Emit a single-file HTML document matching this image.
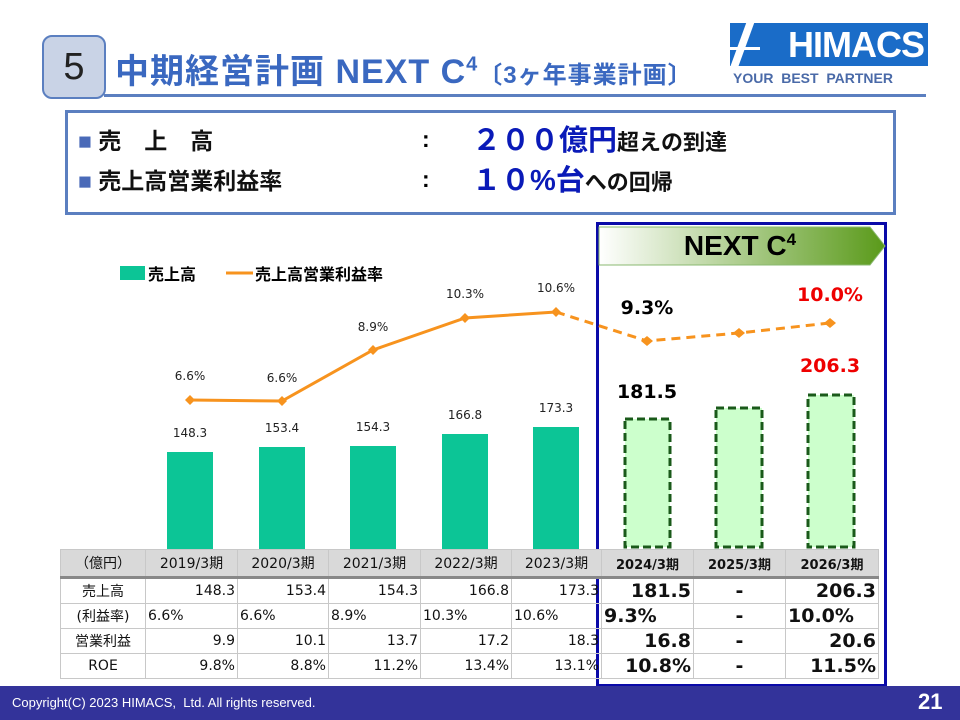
<!DOCTYPE html>
<html><head><meta charset="utf-8"><style>
body{margin:0;width:960px;height:720px;position:relative;background:#fff;overflow:hidden;font-family:"Liberation Sans","Noto Sans CJK JP",sans-serif}
.a{position:absolute;white-space:nowrap}
table{position:absolute;left:60px;top:549px;border-collapse:collapse;font-size:14px;font-family:"DejaVu Sans","Noto Sans CJK JP",sans-serif;table-layout:fixed}
td{border:1px solid #c8c8c8;height:24px;padding:0 2px;text-align:right;color:#111}
tr.h td{background:#d9d9d9;text-align:center;height:26px;border-bottom:3px solid #888}
td.c{text-align:center}
td.l{text-align:left}
td.b{font-weight:bold;font-size:19px}
tr.h td.b{font-size:13px}
</style></head><body>
<div class="a" style="left:42px;top:35px;width:60px;height:60px;border:2px solid #5b7fc0;border-radius:10px;background:#c9d3e6;font-size:38px;text-align:center;line-height:60px;color:#222">5</div>
<div class="a" style="left:104px;top:94px;width:822px;height:3px;background:#5b7fc0"></div>
<div class="a" style="left:115px;top:44px;font-size:34px;font-weight:bold;color:#3a68c0;letter-spacing:1px">中期経営計画 NEXT C<sup style="font-size:20px">4</sup><span style="font-size:24px">〔3ヶ年事業計画〕</span></div>
<div class="a" style="left:730px;top:23px;width:198px;height:43px;background:#1a6cc8;overflow:hidden">
<div class="a" style="left:8px;top:-5px;width:8px;height:55px;background:#fff;transform:skewX(-20deg)"></div>
<div class="a" style="left:0;top:24px;width:30px;height:3px;background:#fff"></div>
<div class="a" style="right:4px;top:0;color:#fff;font-size:36px;font-weight:bold;line-height:43px;letter-spacing:-1px">HIMACS</div></div>
<div class="a" style="left:733px;top:70px;font-size:14px;font-weight:bold;color:#4a6aa8">YOUR&nbsp; BEST&nbsp; PARTNER</div>
<div class="a" style="left:65px;top:110px;width:825px;height:99px;border:3px solid #5b7fc0"></div>
<div class="a" style="left:78px;top:122px;font-size:23px;font-weight:bold;color:#111"><span style="color:#4a6ab8">■</span> 売　上　高</div>
<div class="a" style="left:78px;top:162px;font-size:23px;font-weight:bold;color:#111"><span style="color:#4a6ab8">■</span> 売上高営業利益率</div>
<div class="a" style="left:422px;top:126px;font-size:23px;font-weight:bold">:</div>
<div class="a" style="left:422px;top:166px;font-size:23px;font-weight:bold">:</div>
<div class="a" style="left:472px;top:117px;font-size:29px;font-weight:bold;color:#0a1ab8">２００億円<span style="font-size:22px;color:#111">超えの到達</span></div>
<div class="a" style="left:472px;top:157px;font-size:29px;font-weight:bold;color:#0a1ab8">１０%台<span style="font-size:22px;color:#111">への回帰</span></div>
<div class="a" style="left:596px;top:222px;width:285px;height:459px;border:3px solid #0a0aa8"></div>
<svg class="a" style="left:0;top:0" width="960" height="720">
<defs><linearGradient id="g" x1="0" x2="1"><stop offset="0" stop-color="#fff"/><stop offset="1" stop-color="#5a9a1a"/></linearGradient></defs>
<polygon points="599,227 870,227 885,246 870,265 599,265" fill="url(#g)" stroke="#8ab870"/>
<text x="740" y="255" text-anchor="middle" font-size="28" font-weight="bold" font-family="Liberation Sans">NEXT C<tspan font-size="17" dy="-10">4</tspan></text>
<rect x="120" y="266" width="25" height="14" fill="#0cc596"/>
<text x="148" y="280" font-size="16" font-weight="bold" font-family="Liberation Sans,Noto Sans CJK JP">売上高</text>
<line x1="226" y1="273" x2="253" y2="273" stroke="#f7931e" stroke-width="3"/>
<text x="255" y="280" font-size="16" font-weight="bold" font-family="Liberation Sans,Noto Sans CJK JP">売上高営業利益率</text>
<g fill="#0cc596">
<rect x="167" y="452" width="46" height="97"/><rect x="259" y="447" width="46" height="102"/><rect x="350" y="446" width="46" height="103"/><rect x="442" y="434" width="46" height="115"/><rect x="533" y="427" width="46" height="122"/></g>
<g fill="#ccffcc" stroke="#1a5a1a" stroke-width="3" stroke-dasharray="8,4">
<rect x="625" y="419" width="45" height="128"/><rect x="716" y="408" width="46" height="139"/><rect x="808" y="395" width="46" height="152"/></g>
<polyline points="190,400 282,401 373,350 465,318 556,312" fill="none" stroke="#f7931e" stroke-width="3"/>
<polyline points="556,312 647,341 739,333 830,323" fill="none" stroke="#f7931e" stroke-width="3" stroke-dasharray="9,6"/>
<g fill="#f7931e"><path d="M190,395l5,5-5,5-5-5z"/><path d="M282,396l5,5-5,5-5-5z"/><path d="M373,345l5,5-5,5-5-5z"/><path d="M465,313l5,5-5,5-5-5z"/><path d="M556,307l5,5-5,5-5-5z"/><path d="M647,336l6,5-6,5-6-5z"/><path d="M739,328l6,5-6,5-6-5z"/><path d="M830,318l6,5-6,5-6-5z"/></g>
<g font-size="12" font-family="DejaVu Sans" text-anchor="middle" fill="#222">
<text x="190" y="380">6.6%</text><text x="282" y="382">6.6%</text><text x="373" y="331">8.9%</text><text x="465" y="298">10.3%</text><text x="556" y="292">10.6%</text>
<text x="190" y="437">148.3</text><text x="282" y="432">153.4</text><text x="373" y="431">154.3</text><text x="465" y="419">166.8</text><text x="556" y="412">173.3</text></g>
<g font-size="19" font-weight="bold" font-family="DejaVu Sans" text-anchor="middle">
<text x="647" y="314">9.3%</text><text x="647" y="398">181.5</text>
<text x="830" y="301" fill="#e00">10.0%</text><text x="830" y="372" fill="#e00">206.3</text></g>
</svg>
<table>
<tr class="h"><td style="width:80px">（億円）</td><td style="width:87px">2019/3期</td><td style="width:86px">2020/3期</td><td style="width:87px">2021/3期</td><td style="width:86px">2022/3期</td><td style="width:85px">2023/3期</td><td class="b" style="width:87px">2024/3期</td><td class="b" style="width:87px">2025/3期</td><td class="b" style="width:88px">2026/3期</td></tr>
<tr><td class="c">売上高</td><td>148.3</td><td>153.4</td><td>154.3</td><td>166.8</td><td>173.3</td><td class="b">181.5</td><td class="b c">-</td><td class="b">206.3</td></tr>
<tr><td class="c">(利益率)</td><td class="l">6.6%</td><td class="l">6.6%</td><td class="l">8.9%</td><td class="l">10.3%</td><td class="l">10.6%</td><td class="b l">9.3%</td><td class="b c">-</td><td class="b l">10.0%</td></tr>
<tr><td class="c">営業利益</td><td>9.9</td><td>10.1</td><td>13.7</td><td>17.2</td><td>18.3</td><td class="b">16.8</td><td class="b c">-</td><td class="b">20.6</td></tr>
<tr><td class="c">ROE</td><td>9.8%</td><td>8.8%</td><td>11.2%</td><td>13.4%</td><td>13.1%</td><td class="b">10.8%</td><td class="b c">-</td><td class="b">11.5%</td></tr>
</table>
<div class="a" style="left:0;top:686px;width:960px;height:34px;background:#33339a"></div>
<div class="a" style="left:12px;top:695px;font-size:13px;color:#fff">Copyright(C) 2023 HIMACS,&nbsp; Ltd. All rights reserved.</div>
<div class="a" style="left:918px;top:689px;font-size:22px;font-weight:bold;color:#fff">21</div>
</body></html>
